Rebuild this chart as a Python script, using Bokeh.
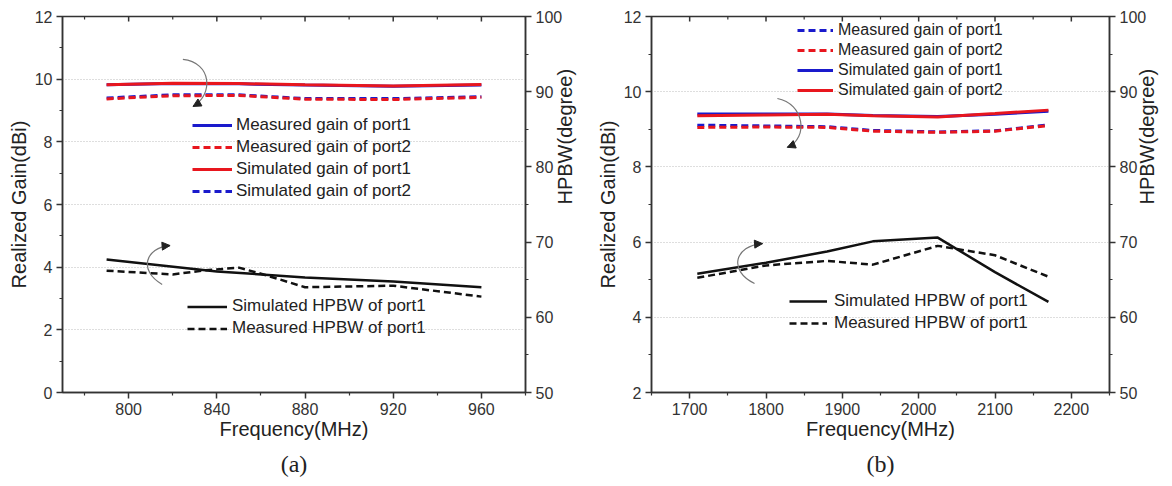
import math
from bokeh.plotting import figure
from bokeh.models import (LinearAxis, Range1d, FixedTicker, Legend, LegendItem,
                          Arrow, NormalHead, Title)
from bokeh.layouts import row
from bokeh.embed import file_html
from bokeh.resources import INLINE

# ---------------- data: panel (a) ----------------
a_freq = [790, 820, 850, 880, 920, 960]
a_meas_gain_p1 = [9.82, 9.86, 9.85, 9.81, 9.77, 9.81]   # blue solid (hidden under red)
a_meas_gain_p2 = [9.37, 9.47, 9.48, 9.36, 9.35, 9.42]   # red dashed
a_sim_gain_p1 = [9.82, 9.87, 9.86, 9.82, 9.78, 9.83]    # red solid
a_sim_gain_p2 = [9.40, 9.50, 9.50, 9.38, 9.38, 9.44]    # blue dashed
a_sim_hpbw_freq = [790, 840, 880, 920, 960]
a_sim_hpbw = [67.7, 66.1, 65.3, 64.75, 64.0]
a_meas_hpbw_freq = [790, 820, 835, 850, 860, 880, 920, 960]
a_meas_hpbw = [66.2, 65.7, 66.25, 66.6, 65.8, 64.0, 64.2, 62.75]
a_xticks = [800, 840, 880, 920, 960]
a_xminor = [780, 820, 860, 900, 940, 980]
a_gain_ticks = [0, 2, 4, 6, 8, 10, 12]
a_gain_minor = [1, 3, 5, 7, 9, 11]

# ---------------- data: panel (b) ----------------
b_freq = [1710, 1800, 1880, 1940, 2025, 2100, 2170]
b_meas_gain_p1 = [9.11, 9.09, 9.07, 8.97, 8.93, 8.96, 9.12]   # blue dashed
b_meas_gain_p2 = [9.05, 9.06, 9.05, 8.95, 8.92, 8.95, 9.10]   # red dashed
b_sim_gain_p1 = [9.41, 9.41, 9.41, 9.37, 9.34, 9.40, 9.48]    # blue solid
b_sim_gain_p2 = [9.36, 9.38, 9.40, 9.36, 9.33, 9.42, 9.51]    # red solid
b_sim_hpbw = [65.8, 67.25, 68.75, 70.1, 70.6, 66.0, 62.05]
b_meas_hpbw = [65.25, 66.9, 67.5, 67.0, 69.5, 68.25, 65.4]
b_xticks = [1700, 1800, 1900, 2000, 2100, 2200]
b_xminor = [1650, 1750, 1850, 1950, 2050, 2150, 2250]
b_gain_ticks = [2, 4, 6, 8, 10, 12]
b_gain_minor = [3, 5, 7, 9, 11]

hpbw_ticks = [50, 60, 70, 80, 90, 100]
hpbw_minor = [55, 65, 75, 85, 95]

FONT = "Liberation Sans"
SERIF = "Liberation Serif"
RED = "#e8161e"
BLUE = "#1a1acc"
BLACK = "#111111"
AX = "#333333"
ARC = "#777777"


def style_axis(ax, ticker, label, standoff):
    ax.ticker = ticker
    ax.axis_line_color = AX
    ax.axis_line_width = 1.5
    ax.major_tick_line_color = AX
    ax.minor_tick_line_color = AX
    ax.major_tick_line_width = 1.5
    ax.minor_tick_line_width = 1.2
    ax.major_tick_out = 6
    ax.major_tick_in = 0
    ax.minor_tick_out = 3
    ax.minor_tick_in = 0
    ax.major_label_text_font = FONT
    ax.major_label_text_font_size = "16px"
    ax.major_label_text_color = AX
    ax.major_label_standoff = 4
    ax.axis_label = label
    ax.axis_label_text_font = FONT
    ax.axis_label_text_font_size = "20px"
    ax.axis_label_text_font_style = "normal"
    ax.axis_label_text_color = "#222222"
    ax.axis_label_standoff = standoff


def make_panel(width, height, borders, xr, yr, xt, xm, yt, ym, caption, cap_offset, r_standoff):
    bl, br, bt, bb = borders
    p = figure(width=width, height=height, x_range=Range1d(*xr), y_range=Range1d(*yr),
               output_backend="svg", toolbar_location=None,
               min_border_left=bl, min_border_right=br, min_border_top=bt,
               min_border_bottom=bb, x_axis_location=None, y_axis_location=None)
    p.extra_y_ranges = {"hpbw": Range1d(50, 100)}
    p.outline_line_color = AX
    p.outline_line_width = 1.5
    p.background_fill_color = "white"
    p.border_fill_color = "white"
    bottom = LinearAxis()
    style_axis(bottom, FixedTicker(ticks=xt, minor_ticks=xm), "Frequency(MHz)", 0)
    p.add_layout(bottom, "below")
    left = LinearAxis()
    style_axis(left, FixedTicker(ticks=yt, minor_ticks=ym), "Realized Gain(dBi)", 2)
    p.add_layout(left, "left")
    right = LinearAxis(y_range_name="hpbw")
    style_axis(right, FixedTicker(ticks=hpbw_ticks, minor_ticks=hpbw_minor), "HPBW(degree)",
               r_standoff)
    right.axis_label_orientation = math.pi / 2
    p.add_layout(right, "right")
    # inward ticks on the top edge of the frame (mirror of the bottom axis)
    p.scatter(x=xt, y=[yr[1]] * len(xt), marker="dash", size=10, angle=math.pi / 2,
              line_color=AX, line_width=1.5)
    p.scatter(x=xm, y=[yr[1]] * len(xm), marker="dash", size=6, angle=math.pi / 2,
              line_color=AX, line_width=1.2)
    p.xgrid.visible = False
    p.ygrid.ticker = FixedTicker(ticks=yt)
    p.ygrid.grid_line_color = "#bdbdbd"
    p.ygrid.grid_line_dash = "1 2"
    p.ygrid.grid_line_width = 1
    p.add_layout(Title(text=caption, align="center", text_font=SERIF,
                       text_font_size="24px", text_font_style="normal",
                       text_color="#222222", offset=cap_offset, standoff=12), "below")
    return p


def add_legend(p, items, loc, gw, gh, sp, standoff, fs):
    lg = Legend(items=items, location=loc, glyph_width=gw, glyph_height=gh,
                label_height=gh, spacing=sp, padding=0, margin=0,
                label_standoff=standoff, border_line_color=None,
                background_fill_alpha=0, label_text_font=FONT,
                label_text_font_size=fs, label_text_color="#222222")
    p.add_layout(lg)


def add_arc(p, pts):
    (x0, y0), (cx0, cy0), (cx1, cy1), (x1, y1) = pts
    p.bezier(x0=[x0], y0=[y0], x1=[x1], y1=[y1], cx0=[cx0], cy0=[cy0],
             cx1=[cx1], cy1=[cy1], line_color=ARC, line_width=1.2)
    p.add_layout(Arrow(end=NormalHead(size=8, fill_color="#222222", line_color="#222222"),
                       x_start=cx1 + (x1 - cx1) * 0.7, y_start=cy1 + (y1 - cy1) * 0.7,
                       x_end=x1, y_end=y1, line_alpha=0))


# ---------------- panel (a) ----------------
pa = make_panel(590, 486, (62, 63, 16, 94), (770, 980), (0, 12),
                a_xticks, a_xminor, a_gain_ticks, a_gain_minor, "(a)", 10, 0)
r_a1 = pa.line(a_freq, a_meas_gain_p1, line_color=BLUE, line_width=3)
r_a4 = pa.line(a_freq, a_sim_gain_p2, line_color=BLUE, line_width=3, line_dash="7 4")
r_a2 = pa.line(a_freq, a_meas_gain_p2, line_color=RED, line_width=3, line_dash="7 4")
r_a3 = pa.line(a_freq, a_sim_gain_p1, line_color=RED, line_width=3)
r_a5 = pa.line(a_sim_hpbw_freq, a_sim_hpbw, line_color=BLACK, line_width=2.5, y_range_name="hpbw")
r_a6 = pa.line(a_meas_hpbw_freq, a_meas_hpbw, line_color=BLACK, line_width=2.5,
               line_dash="7 4", y_range_name="hpbw")
add_legend(pa, [LegendItem(label="Measured gain of port1", renderers=[r_a1]),
                LegendItem(label="Measured gain of port2", renderers=[r_a2]),
                LegendItem(label="Simulated gain of port1", renderers=[r_a3]),
                LegendItem(label="Simulated gain of port2", renderers=[r_a4])],
           (130, 191), 40, 20, 2, 4, "17px")
add_legend(pa, [LegendItem(label="Simulated HPBW of port1", renderers=[r_a5]),
                LegendItem(label="Measured HPBW of port1", renderers=[r_a6])],
           (125, 54), 40, 19, 2, 5, "17px")
add_arc(pa, [(824.6, 10.63), (837.7, 10.53), (838.6, 9.51), (829.2, 9.13)])
add_arc(pa, [(815.2, 3.45), (804.3, 3.89), (807.5, 4.63), (818.8, 4.69)])

# ---------------- panel (b) ----------------
pb = make_panel(582, 486, (61, 59, 16, 94), (1650, 2250), (2, 12),
                b_xticks, b_xminor, b_gain_ticks, b_gain_minor, "(b)", 4, -2)
r_b1 = pb.line(b_freq, b_meas_gain_p1, line_color=BLUE, line_width=3, line_dash="7 4")
r_b2 = pb.line(b_freq, b_meas_gain_p2, line_color=RED, line_width=3, line_dash="7 4")
r_b3 = pb.line(b_freq, b_sim_gain_p1, line_color=BLUE, line_width=3)
r_b4 = pb.line(b_freq, b_sim_gain_p2, line_color=RED, line_width=3)
r_b5 = pb.line(b_freq, b_sim_hpbw, line_color=BLACK, line_width=2.5, y_range_name="hpbw")
r_b6 = pb.line(b_freq, b_meas_hpbw, line_color=BLACK, line_width=2.5,
               line_dash="7 4", y_range_name="hpbw")
add_legend(pb, [LegendItem(label="Measured gain of port1", renderers=[r_b1]),
                LegendItem(label="Measured gain of port2", renderers=[r_b2]),
                LegendItem(label="Simulated gain of port1", renderers=[r_b3]),
                LegendItem(label="Simulated gain of port2", renderers=[r_b4])],
           (146, 293), 36, 18, 2, 5, "16px")
add_legend(pb, [LegendItem(label="Simulated HPBW of port1", renderers=[r_b5]),
                LegendItem(label="Measured HPBW of port1", renderers=[r_b6])],
           (138, 59), 38, 20, 2, 7, "17px")
add_arc(pb, [(1814.9, 9.82), (1850.0, 9.69), (1856.5, 8.76), (1827.9, 8.52)])
add_arc(pb, [(1785.0, 4.90), (1750.0, 5.24), (1759.0, 5.91), (1795.5, 5.96)])

layout = row(pa, pb)
open("out.html", "w").write(file_html(layout, INLINE))
